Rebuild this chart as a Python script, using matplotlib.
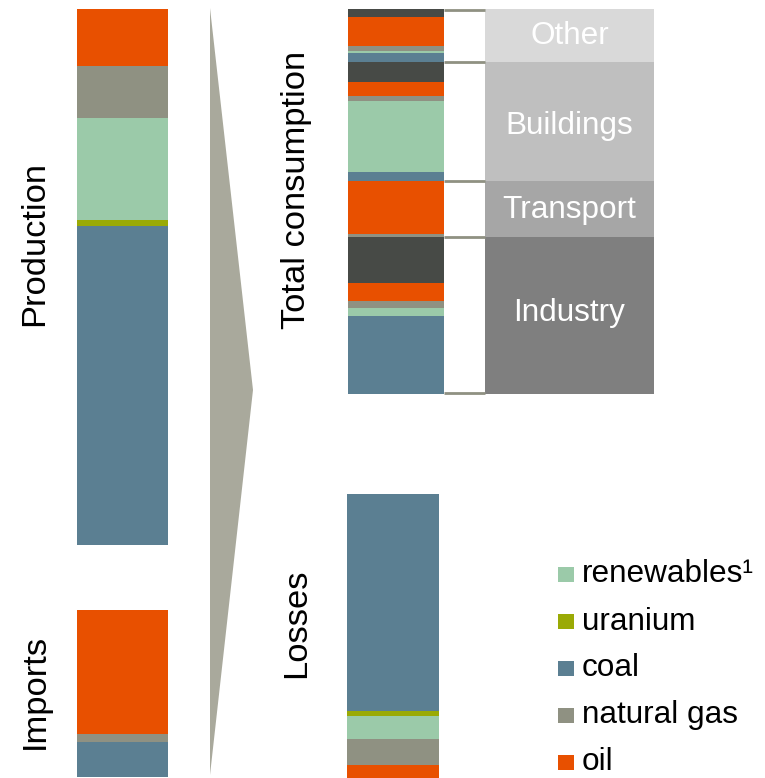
import matplotlib
matplotlib.use("Agg")
import matplotlib.pyplot as plt
from matplotlib.patches import Polygon, Rectangle

plt.rcParams['font.family'] = ['Liberation Sans', 'DejaVu Sans']

# Energy carriers
carriers = ["coal", "uranium", "renewables", "natural gas", "oil", "electricity & heat"]
colors = {
    "coal": "#5B7F92",
    "uranium": "#9AAA05",
    "renewables": "#9BCAA9",
    "natural gas": "#8F9182",
    "oil": "#E85000",
    "electricity & heat": "#474A46",
}

# Supply side
production = [319, 6, 102, 52, 57, 0]
imports = [35, 0, 0, 8, 124, 0]

# Final consumption by sector (bottom to top: Industry, Transport, Buildings, Other)
sectors = ["Industry", "Transport", "Buildings", "Other"]
sector_colors = ["#7F7F7F", "#A6A6A6", "#BFBFBF", "#D9D9D9"]
industry = [78, 0, 8, 7, 18, 46]
transport = [0, 0, 0, 3, 53, 0]
buildings = [9, 0, 71, 5, 14, 20]
other = [9, 0, 2, 5, 29, 8]
consumption = [industry, transport, buildings, other]

# Conversion and distribution losses
losses = [217, 5, 23, 26, 13, 0]

# Legend entries (top to bottom)
legend_labels = ["renewables¹", "uranium", "coal", "natural gas", "oil"]
legend_keys = ["renewables", "uranium", "coal", "natural gas", "oil"]

W, H = 765, 778
fig = plt.figure(figsize=(W / 100, H / 100), dpi=100)
ax = fig.add_axes([0, 0, 1, 1])
ax.set_xlim(0, W)
ax.set_ylim(0, H)
ax.axis("off")

FS = 22.7       # sector and legend text
FS_SIDE = 24.8  # rotated block labels


def stack(x, width, values, base, reverse=False):
    pairs = list(zip(carriers, values))
    if reverse:
        pairs = pairs[::-1]
    b = base
    for key, v in pairs:
        if v > 0:
            ax.bar(x, v, width=width, bottom=b, color=colors[key],
                   linewidth=0, align="center")
        b += v
    return b


# Production and imports
stack(122.5, 91, production, 233)
stack(122.5, 91, imports, 1)

# Flow arrow
ax.add_patch(Polygon([(210, 770), (253, 388), (210, 3)], closed=True,
                     facecolor="#A9A99C", edgecolor="none"))

# Consumption stack with sector boxes and connectors
cons_base = 384
b = cons_base
bounds = [b]
for vals in consumption:
    b = stack(396, 96, vals, b)
    bounds.append(b)

label_shift = [3, -1, -4, 0]
for i, name in enumerate(sectors):
    lo, hi = bounds[i], bounds[i + 1]
    ax.bar(569.5, hi - lo, width=169, bottom=lo, color=sector_colors[i],
           linewidth=0)
    ax.text(569.5, (lo + hi) / 2 + label_shift[i], name, ha="center",
            va="center", color="white", fontsize=FS)

for yb in bounds:
    yline = min(max(yb, bounds[0] + 1), bounds[-1] - 1)
    ax.plot([444, 485], [yline, yline], color="#8F9182", lw=2,
            solid_capstyle="butt")

# Losses (coal on top)
stack(393, 92, losses, 0, reverse=True)

# Side labels
ax.text(35, 778 - 243, "Production", rotation=90, ha="center", va="center",
        fontsize=FS_SIDE, color="black")
ax.text(35, 778 - 691, "Imports", rotation=90, ha="center", va="center",
        fontsize=FS_SIDE, color="black")
ax.text(297, 778 - 190, "Total consumption", rotation=90, ha="center",
        va="center", fontsize=FS_SIDE, color="black")
ax.text(297, 778 - 623, "Losses", rotation=90, ha="center", va="center",
        fontsize=FS_SIDE, color="black")

# Legend
for i, (lab, key) in enumerate(zip(legend_labels, legend_keys)):
    yc = 778 - (574.5 + 47 * i)
    ax.add_patch(Rectangle((558, yc - 7.5), 16, 15, facecolor=colors[key],
                           edgecolor="none"))
    ax.text(582, yc, lab, ha="left", va="center", fontsize=FS, color="black")

fig.savefig("out.png", dpi=100)
